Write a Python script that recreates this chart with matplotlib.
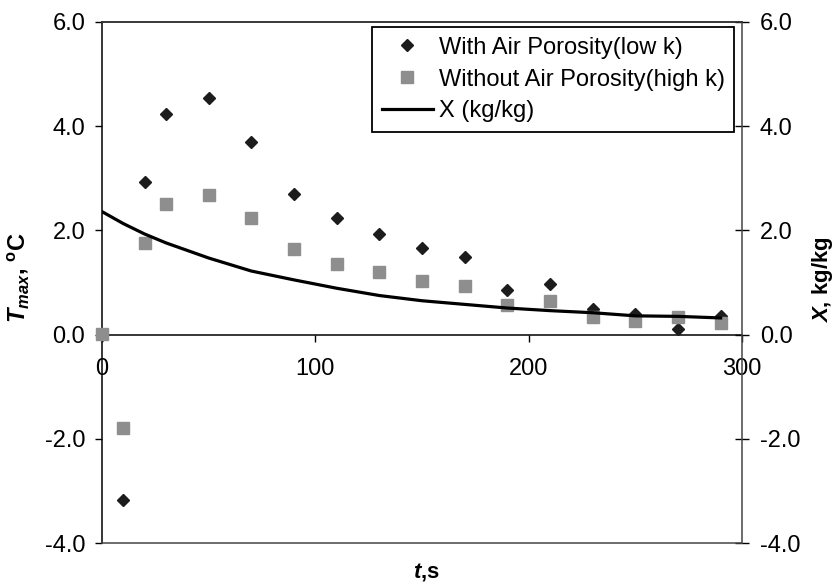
import matplotlib
matplotlib.use("Agg")
import matplotlib.pyplot as plt
from matplotlib.ticker import FuncFormatter, FixedLocator

plt.rcParams['font.family'] = ['Liberation Sans', 'DejaVu Sans']
plt.rcParams['mathtext.fontset'] = 'custom'
plt.rcParams['mathtext.rm'] = 'Liberation Sans:bold'
plt.rcParams['mathtext.it'] = 'Liberation Sans:bold:italic'
plt.rcParams['mathtext.bf'] = 'Liberation Sans:bold'

# Data
t_with = [0, 10, 20, 30, 50, 70, 90, 110, 130, 150, 170, 190, 210, 230, 250, 270, 290]
T_with = [0.0, -3.18, 2.93, 4.24, 4.55, 3.69, 2.69, 2.24, 1.93, 1.67, 1.48, 0.86, 0.97, 0.49, 0.39, 0.10, 0.36]
t_without = [0, 10, 20, 30, 50, 70, 90, 110, 130, 150, 170, 190, 210, 230, 250, 270, 290]
T_without = [0.02, -1.80, 1.75, 2.51, 2.67, 2.23, 1.64, 1.36, 1.20, 1.02, 0.93, 0.56, 0.64, 0.34, 0.26, 0.33, 0.23]
t_X = [0, 10, 20, 30, 50, 70, 90, 110, 130, 150, 170, 190, 210, 230, 250, 270, 290]
X_vals = [2.36, 2.13, 1.93, 1.76, 1.47, 1.22, 1.05, 0.89, 0.75, 0.65, 0.58, 0.51, 0.46, 0.42, 0.36, 0.35, 0.32]

x_ticks = [0, 100, 200, 300]
y_ticks = [-4.0, -2.0, 0.0, 2.0, 4.0, 6.0]

labels = ["With Air Porosity(low k)", "Without Air Porosity(high k)", "X (kg/kg)"]

fig = plt.figure(figsize=(8.35, 5.88), dpi=100)
ax = fig.add_axes([0.1222, 0.0765, 0.7664, 0.8861])
ax2 = ax.twinx()

h1, = ax.plot(t_with, T_with, linestyle='none', marker='D', ms=6.4,
              color='#1c1c1c', mec='#1c1c1c', label=labels[0], zorder=3, clip_on=False)
h2, = ax.plot(t_without, T_without, linestyle='none', marker='s', ms=8,
              color='#8e8e8e', mec='#8e8e8e', label=labels[1], zorder=4, clip_on=False)
h3, = ax2.plot(t_X, X_vals, color='black', lw=2.3, label=labels[2], zorder=5)

for a in (ax, ax2):
    a.set_xlim(0, 300)
    a.set_ylim(-4, 6)
    a.patch.set_visible(False)

fmt = FuncFormatter(lambda v, p: f"{v:.1f}")

# Left axis
ax.yaxis.set_major_locator(FixedLocator(y_ticks))
ax.yaxis.set_major_formatter(fmt)
ax.tick_params(axis='y', direction='out', length=5, width=1, pad=7, labelsize=17)

# X axis at y=0
ax.spines['bottom'].set_position(('data', 0))
ax.spines['bottom'].set_color('black')
ax.xaxis.set_major_locator(FixedLocator(x_ticks))
ax.xaxis.set_major_formatter(FuncFormatter(lambda v, p: f"{int(v)}"))
ax.tick_params(axis='x', direction='out', length=5, width=1, pad=12, labelsize=17)
ax.spines['left'].set_color('black')
ax.spines['top'].set_color('#333333')
ax.spines['right'].set_visible(False)

# Right axis
ax2.yaxis.set_major_locator(FixedLocator(y_ticks))
ax2.yaxis.set_major_formatter(fmt)
ax2.tick_params(axis='y', direction='inout', length=9.5, width=1, pad=8, labelsize=17)
ax2.spines['right'].set_color('#444444')
ax2.spines['bottom'].set_color('#444444')
ax2.spines['top'].set_color('#333333')
ax2.spines['left'].set_visible(False)
ax2.tick_params(axis='x', bottom=False, labelbottom=False)

for sp in ax.spines.values():
    sp.set_linewidth(1.1)
for sp in ax2.spines.values():
    sp.set_linewidth(1.1)

# Axis labels
fig.text(0.022, 0.527, r"$T_{max}$, $^{\rm o}$C", rotation=90, ha='center', va='center',
         fontsize=17, fontweight='bold')
fig.text(0.985, 0.524, r"$X$, kg/kg", rotation=90, ha='center', va='center',
         fontsize=16, fontweight='bold')
fig.text(0.511, 0.027, r"$t$,s", ha='center', va='center', fontsize=16, fontweight='bold')

leg = ax2.legend(handles=[h1, h2, h3], labels=labels, loc='upper right',
                 bbox_to_anchor=(0.9875, 0.990), borderaxespad=0, fontsize=17,
                 frameon=True, fancybox=False, edgecolor='black', framealpha=1,
                 handlelength=2.15, handletextpad=0.25, labelspacing=0.42,
                 borderpad=0.4)
leg.get_frame().set_linewidth(1.3)

fig.savefig("out.png", dpi=100)
